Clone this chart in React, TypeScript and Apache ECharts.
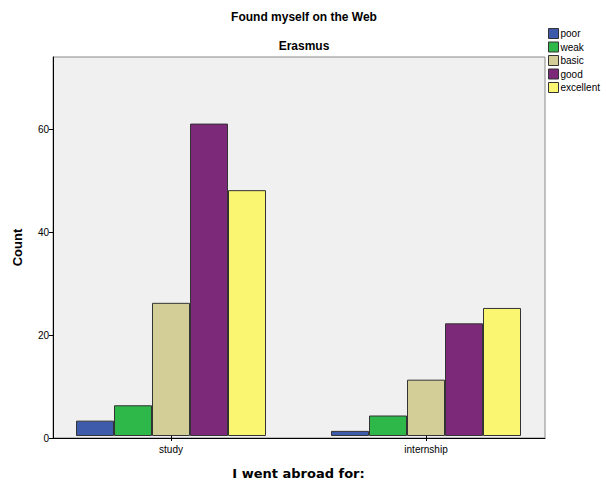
import React, { useEffect, useRef } from "react";
import * as echarts from "echarts";

const categories = ["study", "internship"];
const seriesNames = ["poor", "weak", "basic", "good", "excellent"];
const poor = [3, 1];
const weak = [6, 4];
const basic = [26, 11];
const good = [61, 22];
const excellent = [48, 25];
const colors = ["#3d5aab", "#2eb84a", "#d3ce97", "#7c2979", "#fbf672"];
const yTicks = [0, 20, 40, 60];

export default function App() {
  const ref = useRef<HTMLDivElement>(null);
  useEffect(() => {
    if (!ref.current) return;
    const chart = echarts.init(ref.current, undefined, { renderer: "svg" });
    const values = [poor, weak, basic, good, excellent];
    const font = "Liberation Sans, Arial, sans-serif";
    chart.setOption({
      animation: false,
      backgroundColor: "#ffffff",
      textStyle: { fontFamily: font },
      title: [
        {
          text: "Found myself on the Web",
          left: 299,
          textAlign: "center",
          top: 6,
          textStyle: { fontSize: 12, fontWeight: "bold", color: "#000", fontFamily: font },
        },
        {
          text: "Erasmus",
          left: 299,
          textAlign: "center",
          top: 35,
          textStyle: { fontSize: 12, fontWeight: "bold", color: "#000", fontFamily: font },
        },
      ],
      legend: {
        orient: "vertical",
        left: 548,
        top: 28,
        padding: 0,
        itemWidth: 10,
        itemHeight: 10,
        itemGap: 2.5,
        icon: "rect",
        data: seriesNames,
        itemStyle: { borderColor: "#333", borderWidth: 1 },
        textStyle: { fontSize: 10, color: "#000", padding: [0, 0, 0, -3], fontFamily: font },
      },
      grid: [
        {
          left: 53,
          right: 61,
          top: 57,
          bottom: 47,
          show: true,
          backgroundColor: "#f0f0f0",
          borderColor: "#8a8a8a",
          borderWidth: 1,
        },
        {
          left: 43.5,
          width: 510,
          top: 57,
          bottom: 47,
        },
      ],
      xAxis: [
        {
          type: "category",
          gridIndex: 0,
          data: categories,
          axisLine: { show: true, lineStyle: { color: "#000" } },
          axisTick: { show: false },
          axisLabel: { show: false },
        },
        {
          type: "category",
          gridIndex: 1,
          data: categories,
          axisLine: { show: false },
          axisTick: { show: true, alignWithLabel: true, length: 5, lineStyle: { color: "#000" } },
          axisLabel: { fontSize: 10, color: "#000", margin: 8, fontFamily: font },
          name: "I went abroad for:",
          nameLocation: "middle",
          nameGap: 31,
          nameTextStyle: { fontSize: 13, fontWeight: "bold", color: "#000", fontFamily: "DejaVu Sans, sans-serif" },
        },
      ],
      yAxis: [
        {
          type: "value",
          gridIndex: 0,
          min: 0,
          max: 74,
          interval: 20,
          axisLine: { show: true, lineStyle: { color: "#000" } },
          axisTick: { show: true, length: 4, lineStyle: { color: "#000" }, customValues: yTicks },
          axisLabel: {
            fontSize: 10,
            color: "#000",
            margin: 4,
            fontFamily: font,
            customValues: yTicks,
          },
          splitLine: { show: false },
          name: "Count",
          nameLocation: "middle",
          nameGap: 29,
          nameRotate: 90,
          nameTextStyle: { fontSize: 13, fontWeight: "bold", color: "#000", fontFamily: font },
        },
        {
          type: "value",
          gridIndex: 1,
          min: 0,
          max: 74,
          show: false,
          splitLine: { show: false },
        },
      ],
      series: seriesNames.map((name, i) => ({
        name,
        type: "bar",
        xAxisIndex: 1,
        yAxisIndex: 1,
        data: values[i],
        barWidth: 38,
        barGap: "0%",
        itemStyle: { color: colors[i], borderColor: "#333", borderWidth: 1 },
      })),
    });
    return () => chart.dispose();
  }, []);
  return (
    <div
      ref={ref}
      style={{ position: "fixed", left: 0, top: 0, width: 606, height: 485 }}
    />
  );
}
